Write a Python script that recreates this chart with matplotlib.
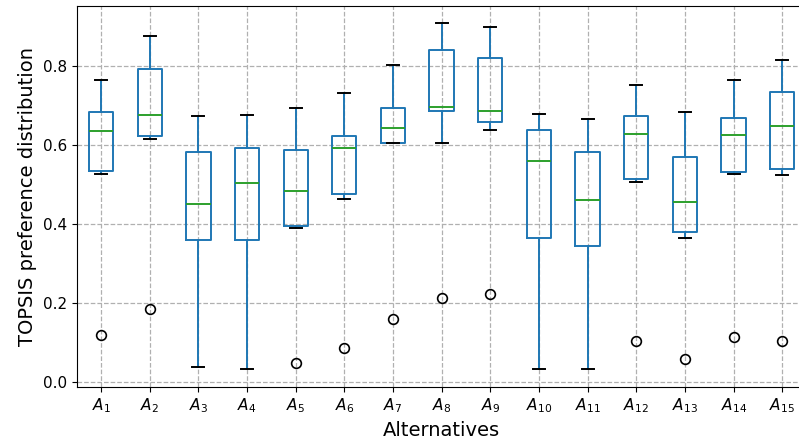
import matplotlib
matplotlib.use("Agg")
import matplotlib.pyplot as plt

# Box statistics
labels   = [f"$A_{{{i}}}$" for i in range(1, 16)]
whislo   = [0.526, 0.614, 0.038, 0.033, 0.390, 0.464, 0.604, 0.604, 0.638, 0.032, 0.031, 0.505, 0.365, 0.526, 0.523]
q1       = [0.535, 0.623, 0.358, 0.360, 0.395, 0.475, 0.604, 0.685, 0.659, 0.364, 0.343, 0.513, 0.378, 0.532, 0.538]
medians  = [0.634, 0.675, 0.449, 0.503, 0.483, 0.593, 0.643, 0.695, 0.687, 0.558, 0.461, 0.627, 0.456, 0.624, 0.649]
q3       = [0.682, 0.792, 0.581, 0.591, 0.586, 0.622, 0.693, 0.841, 0.821, 0.637, 0.583, 0.674, 0.569, 0.667, 0.733]
whishi   = [0.764, 0.875, 0.672, 0.675, 0.694, 0.731, 0.803, 0.908, 0.899, 0.679, 0.665, 0.752, 0.682, 0.764, 0.814]
outliers = [[0.117], [0.185], [], [], [0.047], [0.086], [0.158], [0.211], [0.221],
            [], [], [0.104], [0.057], [0.112], [0.104]]

stats = []
for i in range(len(labels)):
    stats.append({
        "label": labels[i], "whislo": whislo[i], "q1": q1[i], "med": medians[i],
        "q3": q3[i], "whishi": whishi[i], "fliers": outliers[i],
    })

fig = plt.figure(figsize=(7.99, 4.45), dpi=100)
ax = fig.add_axes([0.096, 0.131, 0.9135, 0.8555])

ax.bxp(
    stats,
    widths=0.5,
    boxprops=dict(color="#1f77b4", linewidth=1.4),
    whiskerprops=dict(color="#1f77b4", linewidth=1.4),
    capprops=dict(color="black", linewidth=1.4),
    medianprops=dict(color="#2ca02c", linewidth=1.4),
    flierprops=dict(marker="o", markerfacecolor="none", markeredgecolor="black",
                    markersize=7, markeredgewidth=1.2),
)

ax.set_xlim(0.5, 15.5)
ax.grid(True, linestyle="--", color="#b0b0b0", linewidth=0.9)
ax.set_axisbelow(True)
ax.tick_params(labelsize=11)
ax.set_xlabel("Alternatives", fontsize=14)
ax.set_ylabel("TOPSIS preference distribution", fontsize=14)

fig.savefig("out.png", dpi=100)
